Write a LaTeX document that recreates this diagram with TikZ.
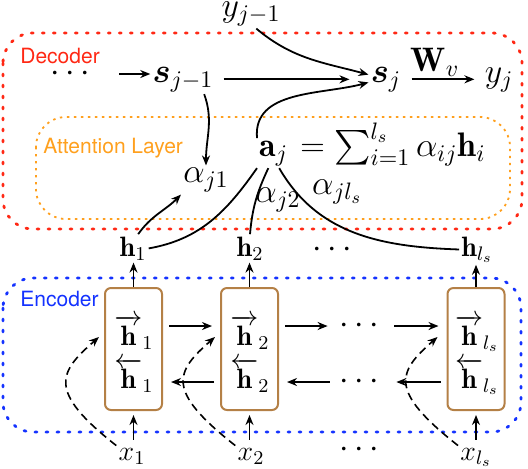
\RequirePackage{fix-cm}
\documentclass[tikz,border=0pt]{standalone}
\usepackage{amsmath}
\usepackage{bm}
\usepackage{fontspec}
\setsansfont{TeX Gyre Heros}
\usepackage{tikz}
\usetikzlibrary{arrows.meta,calc,positioning}

\definecolor{decred}{RGB}{255,40,20}
\definecolor{attorange}{RGB}{255,160,30}
\definecolor{encblue}{RGB}{20,50,255}
\definecolor{cellbrown}{RGB}{180,128,70}

\newcommand{\fwh}[1]{$\overrightarrow{\,\mathbf{h}\,}_{#1}$}
\newcommand{\bwh}[1]{$\overleftarrow{\,\mathbf{h}\,}_{#1}$}

\tikzset{
  dec/.style={font=\fontsize{17}{20}\selectfont, inner sep=1pt},
  enc/.style={font=\fontsize{14}{17}\selectfont, inner sep=1pt},
  celltext/.style={enc, inner sep=0pt, anchor=base},
  dotsnode/.style={dec, minimum width=26pt},
  boxlab/.style={font=\sffamily\fontsize{10.5}{12}\selectfont, anchor=west, inner sep=0pt},
  bigbox/.style={line width=1.4pt, line cap=round, dash pattern=on 1pt off 4.5pt, rounded corners=15pt},
  attbox/.style={attorange, line width=0.9pt, dash pattern=on 1.2pt off 2.3pt, rounded corners=15pt},
  cell/.style={draw=cellbrown, line width=1pt, rounded corners=3pt, minimum width=28.5pt, minimum height=61pt},
  arr/.style={->, line width=0.9pt},
  hor/.style={arr, shorten <=3pt, shorten >=4pt},
  con/.style={line width=0.9pt},
  dasharr/.style={->, line width=0.8pt, dash pattern=on 4pt off 2.5pt}
}

\begin{document}
\begin{tikzpicture}[x=0.5pt,y=-0.5pt,>={Stealth[length=5pt,width=4pt]}]
\useasboundingbox (0,0) rectangle (528,468);

% boxes
\draw[bigbox, decred] (3,33) rectangle (522,229);
\draw[attbox] (36,117) rectangle (510,219);
\draw[bigbox, encblue] (3,278) rectangle (521,432);
\node[boxlab, decred] (declab) at (20,56) {Decoder};
\node[boxlab, attorange] (attlab) at (43,148) {Attention Layer};
\node[boxlab, encblue] (enclab) at (20,299) {Encoder};

% decoder
\node[dec] (yjm) at (251,14) {$y_{j-1}$};
\node[dec] (dots1) at (73,74) {$\cdots$};
\node[dec, anchor=base] (sjm) at (183,82) {$\bm{s}_{j-1}$};
\node[dec, anchor=base] (sj) at (386,82) {$\bm{s}_j$};
\node[dec, anchor=base] (yj) at (499,82) {$y_j$};

\draw[arr, shorten <=10.5pt] (dots1) -- (dots1 -| sjm.west);
\draw[arr, shorten <=4pt, shorten >=9.5pt] (sjm) -- (sjm -| sj.west);
\draw[arr, shorten <=4pt, shorten >=4pt] (sj) -- node[dec, above, pos=0.4] (wv) {$\mathbf{W}_v$} (sj -| yj.west);
\draw[arr] (yjm.-70) to[out=-40,in=165] (sj.165);

% attention
\node[dec, anchor=base west] (aj) at (257,156) {$\mathbf{a}_j$};
\node[dec, anchor=base west, inner sep=0pt] (sum) at (aj.base east) {${}=\sum_{i=1}^{l_s}\alpha_{ij}\mathbf{h}_i$};
\node[dec] (alpha1) at (206,180) {$\alpha_{j1}$};
\node[dec] (alpha2) at (278,200) {$\alpha_{j2}$};
\node[dec] (alphals) at (337,192) {$\alpha_{jl_s}$};

\draw[arr] (sjm.-35) to[out=-70,in=90] (alpha1.north);
\draw[arr] (aj.north west) to[out=95,in=195] (sj.190);

% encoder
\node[enc, anchor=base] (h1) at (133,256) {$\mathbf{h}_1$};
\node[enc, anchor=base] (h2) at (250,256) {$\mathbf{h}_2$};
\node[dec] (hdots) at (335,250) {$\cdots$};
\node[enc, anchor=base] (hls) at (477,256) {$\mathbf{h}_{l_s}$};

\draw[con] (aj.south west) to[out=-125,in=10] (h1.east);
\draw[con] (aj.250) to[out=-115,in=85] (h2.north);
\draw[con] (aj.-70) to[out=-60,in=178] (hls.west);
\draw[arr] (h1.70) to[out=55,in=-135] (alpha1.south west);

\node[cell] (c1) at (133.5,349) {};
\node[cell] (c2) at (249.5,349) {};
\node[cell] (c3) at (476,349) {};
\node[celltext] (fw1) at (134,345) {\fwh{1}};
\node[celltext] (bw1) at (134,388) {\bwh{1}};
\node[celltext] (fw2) at (250,345) {\fwh{2}};
\node[celltext] (bw2) at (250,388) {\bwh{2}};
\node[celltext] (fw3) at (477,345) {\fwh{l_s}};
\node[celltext] (bw3) at (477,388) {\bwh{l_s}};

\coordinate (fwy) at (0,326);
\coordinate (bwy) at (0,382);
\node[dotsnode] (fdots) at (362,326) {$\cdots$};
\node[dotsnode] (bdots) at (362,382) {$\cdots$};

\draw[hor] (c1.east |- fwy) -- (c2.west |- fwy);
\draw[hor] (c2.east |- fwy) -- (fdots.west);
\draw[hor] (fdots.east) -- (c3.west |- fwy);
\draw[hor] (c2.west |- bwy) -- (c1.east |- bwy);
\draw[hor] (c3.west |- bwy) -- (bdots.east);
\draw[hor] (bdots.west) -- (c2.east |- bwy);

\draw[arr] (c1.north) -- (c1.north |- h1.south);
\draw[arr] (c2.north) -- (c2.north |- h2.south);
\draw[arr] (c3.north) -- (c3.north |- hls.south);

\node[enc, anchor=base] (x1) at (132,460) {$x_1$};
\node[enc, anchor=base] (x2) at (251,460) {$x_2$};
\node[dec] (xdots) at (362,450) {$\cdots$};
\node[enc, anchor=base] (xls) at (476,460) {$x_{l_s}$};

\draw[arr, shorten <=3pt, shorten >=2pt] (c1.south |- x1.north) -- (c1.south);
\draw[arr, shorten <=3pt, shorten >=2pt] (c2.south |- x2.north) -- (c2.south);
\draw[arr, shorten <=3pt, shorten >=2pt] (c3.south |- xls.north) -- (c3.south);

\draw[dasharr] (x1.north west) .. controls +(-70,-55) and +(-40,35) .. ($(c1.west)+(-5,-12)$);
\draw[dasharr] (x2.north west) .. controls +(-70,-55) and +(-40,35) .. ($(c2.west)+(-5,-12)$);
\draw[dasharr] (xls.north west) .. controls +(-70,-55) and +(-40,35) .. ($(c3.west)+(-9,-12)$);
\end{tikzpicture}
\end{document}
